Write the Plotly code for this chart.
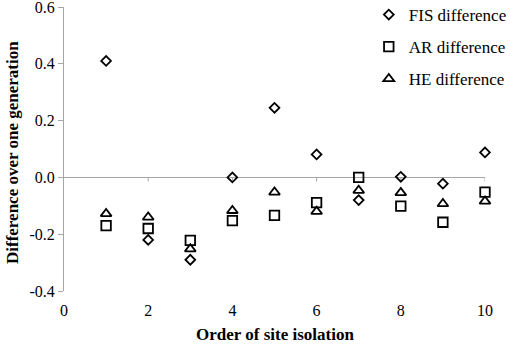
import plotly.graph_objects as go

order = [1, 2, 3, 4, 5, 6, 7, 8, 9, 10]
fis_diff = [0.41, -0.22, -0.29, 0.0, 0.245, 0.081, -0.08, 0.002, -0.022, 0.088]
ar_diff = [-0.17, -0.18, -0.222, -0.152, -0.134, -0.089, 0.0, -0.101, -0.158, -0.052]
he_diff = [-0.128, -0.14, -0.252, -0.117, -0.052, -0.12, -0.046, -0.054, -0.093, -0.084]
x_ticks = [0, 2, 4, 6, 8, 10]
y_ticks = [-0.4, -0.2, 0.0, 0.2, 0.4, 0.6]
y_ticktext = [f"{v:.1f}" for v in y_ticks]

FONT = "Liberation Serif, Times New Roman, serif"
GREY = "#a6a6a6"

fig = go.Figure()
series = [
    ("FIS difference", fis_diff, "diamond-open", 7.5),
    ("AR difference", ar_diff, "square-open", 9.5),
    ("HE difference", he_diff, "triangle-up-open", 9.5),
]
for name, vals, sym, size in series:
    fig.add_trace(go.Scatter(
        x=order, y=vals, mode="markers", name=name, legendgroup=name,
        marker=dict(symbol=sym, size=size, color="black", line=dict(width=1.8, color="black")),
        cliponaxis=False,
    ))

# small tick marks hanging below the y=0 axis line
for t in x_ticks[1:]:
    fig.add_shape(type="line", xref="x", yref="y", x0=t, x1=t, y0=0, y1=-0.014,
                  line=dict(color=GREY, width=1), layer="below")

fig.add_annotation(text="<b>Order of site isolation</b>", xref="paper", yref="paper",
                   x=0.5, y=0, xanchor="center", yanchor="middle", yshift=-43,
                   showarrow=False, font=dict(family=FONT, size=17, color="black"))
fig.add_annotation(text="<b>Difference over one generation</b>", xref="paper", yref="paper",
                   x=0, y=0.5, xanchor="center", yanchor="middle", xshift=-52, yshift=-4,
                   textangle=-90, showarrow=False,
                   font=dict(family=FONT, size=17, color="black"))

fig.update_layout(
    width=510, height=344,
    margin=dict(l=64, r=25, t=7, b=53, autoexpand=False),
    plot_bgcolor="white", paper_bgcolor="white",
    font=dict(family=FONT, size=16, color="black"),
    showlegend=True,
    legend=dict(x=0.724, y=1.035, xanchor="left", yanchor="top",
                font=dict(family=FONT, size=17), tracegroupgap=7, itemwidth=30,
                bgcolor="rgba(0,0,0,0)"),
    xaxis=dict(range=[0, 10], tickvals=x_ticks, showgrid=False, zeroline=False,
               showline=False, ticks="", ticklabelstandoff=8, automargin=False,
               ticklabeloverflow="allow"),
    yaxis=dict(range=[-0.4, 0.6], tickvals=y_ticks, ticktext=y_ticktext,
               showgrid=False, zeroline=True, zerolinecolor=GREY, zerolinewidth=1,
               showline=True, linecolor=GREY, linewidth=1,
               ticks="outside", ticklen=5, tickcolor=GREY, automargin=False,
               ticklabeloverflow="allow"),
)

fig.write_html("out.html", config={"displayModeBar": False},
               post_script="document.body.style.margin='0';")
